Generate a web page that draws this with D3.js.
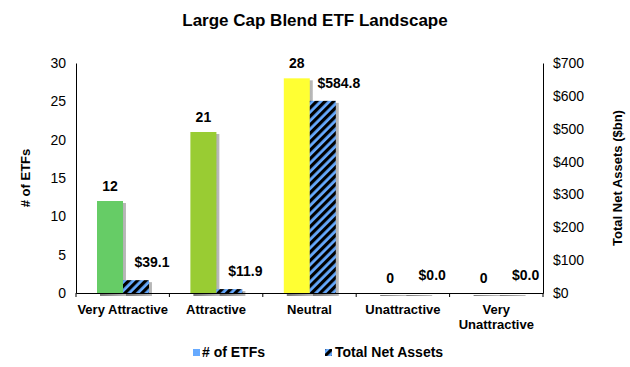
<!DOCTYPE html>
<html><head><meta charset="utf-8">
<script src="https://cdn.jsdelivr.net/npm/d3@7"></script>
<style>body{margin:0;background:#fff}svg{display:block}text{font-family:Arial,"Liberation Sans",sans-serif}</style>
</head><body><div id="chart"></div>
<script>
const categories = ["Very Attractive", "Attractive", "Neutral", "Unattractive", "Very Unattractive"];
const etfCounts = [12, 21, 28, 0, 0];
const netAssets = [39.1, 11.9, 584.8, 0.0, 0.0];
const barColors = ["#66CC66", "#99CC33", "#FFFF33", "#FF9933", "#FF3333"];
const leftTicks = [0, 5, 10, 15, 20, 25, 30];
const rightTicks = [0, 100, 200, 300, 400, 500, 600, 700];

const W = 630, H = 367;
const m = {left: 76, right: 87, top: 63, bottom: 74};
const iw = W - m.left - m.right, ih = H - m.top - m.bottom;

const svg = d3.select("#chart").append("svg").attr("width", W).attr("height", H);
const defs = svg.append("defs");
const pat = defs.append("pattern").attr("id","hatch").attr("patternUnits","userSpaceOnUse")
  .attr("width",6).attr("height",6).attr("patternTransform","rotate(45)");
pat.append("rect").attr("width",6).attr("height",6).attr("fill","#66AAFF");
pat.append("rect").attr("width",3.2).attr("height",6).attr("fill","#000");
const sh = defs.append("linearGradient").attr("id","shade").attr("x1",0).attr("x2",1).attr("y1",0).attr("y2",0);
sh.append("stop").attr("offset","0%").attr("stop-color","#777");
sh.append("stop").attr("offset","100%").attr("stop-color","#bbb");

const x = d3.scaleBand().domain(categories).range([m.left, m.left + iw]);
const yL = d3.scaleLinear().domain([0, 30]).range([m.top + ih, m.top]);
const yR = d3.scaleLinear().domain([0, 700]).range([m.top + ih, m.top]);
const bw = 26, off = 21;

const g = svg.append("g");
categories.forEach((c, i) => {
  const x0 = x(c) + off;
  const h1 = yL(0) - yL(etfCounts[i]);
  g.append("rect").attr("x", x0 + 3).attr("y", yL(etfCounts[i]) + 2).attr("width", bw).attr("height", h1 + 1)
    .attr("fill", "url(#shade)");
  const h2 = yR(0) - yR(netAssets[i]);
  g.append("rect").attr("x", x0 + bw + 3).attr("y", yR(netAssets[i]) + 2).attr("width", bw).attr("height", h2 + 1)
    .attr("fill", "url(#shade)");
});
categories.forEach((c, i) => {
  const x0 = x(c) + off;
  g.append("rect").attr("x", x0).attr("y", yL(etfCounts[i])).attr("width", bw)
    .attr("height", yL(0) - yL(etfCounts[i])).attr("fill", barColors[i]);
  g.append("rect").attr("x", x0 + bw).attr("y", yR(netAssets[i])).attr("width", bw)
    .attr("height", yR(0) - yR(netAssets[i])).attr("fill", "url(#hatch)");
  g.append("text").attr("x", x0 + bw / 2).attr("y", yL(etfCounts[i]) - 10)
    .attr("text-anchor", "middle").attr("font-size", 14).attr("font-weight", "bold").text(etfCounts[i]);
  g.append("text").attr("x", x0 + bw * 1.5 + 16).attr("y", yR(netAssets[i]) - 13)
    .attr("text-anchor", "middle").attr("font-size", 14).attr("font-weight", "bold").text("$" + netAssets[i].toFixed(1));
});

const axB = svg.append("g").attr("transform", `translate(0,${m.top + ih})`)
  .call(d3.axisBottom(x).tickSize(0).tickFormat(""));
axB.select(".domain").attr("stroke", "#000");
const bounds = [m.left, ...categories.map(c => x(c) + x.bandwidth())];
bounds.forEach(b => svg.append("line").attr("x1", b).attr("x2", b).attr("y1", m.top + ih).attr("y2", m.top + ih + 4).attr("stroke", "#000"));
categories.forEach(c => {
  const words = c === "Very Unattractive" ? ["Very", "Unattractive"] : [c];
  words.forEach((w, j) => svg.append("text").attr("x", x(c) + x.bandwidth() / 2).attr("y", m.top + ih + 21 + j * 15)
    .attr("text-anchor", "middle").attr("font-size", 13).attr("font-weight", "bold").text(w));
});

const axL = svg.append("g").attr("transform", `translate(${m.left},0)`)
  .call(d3.axisLeft(yL).tickValues(leftTicks).tickSize(0).tickPadding(10));
axL.select(".domain").attr("stroke", "#000");
axL.selectAll("text").attr("font-size", 14).attr("fill", "#000").style("font-family", "Arial, 'Liberation Sans', sans-serif");

const axR = svg.append("g").attr("transform", `translate(${m.left + iw},0)`)
  .call(d3.axisRight(yR).tickValues(rightTicks).tickSize(0).tickPadding(10).tickFormat(d => "$" + d));
axR.select(".domain").attr("stroke", "#000");
axR.selectAll("text").attr("font-size", 14).attr("fill", "#000").style("font-family", "Arial, 'Liberation Sans', sans-serif");

svg.append("text").attr("x", 315).attr("y", 26).attr("text-anchor", "middle")
  .attr("font-size", 17).attr("font-weight", "bold").text("Large Cap Blend ETF Landscape");
svg.append("text").attr("transform", `translate(30,${m.top + ih / 2}) rotate(-90)`).attr("text-anchor", "middle")
  .attr("font-size", 13).attr("font-weight", "bold").text("# of ETFs");
svg.append("text").attr("transform", `translate(622,${m.top + ih / 2}) rotate(-90)`).attr("text-anchor", "middle")
  .attr("font-size", 13).attr("font-weight", "bold").text("Total Net Assets ($bn)");

svg.append("rect").attr("x", 193).attr("y", 349).attr("width", 7).attr("height", 7).attr("fill", "#66AAFF");
svg.append("text").attr("x", 202).attr("y", 357).attr("font-size", 14).attr("font-weight", "bold").text("# of ETFs");
svg.append("rect").attr("x", 325).attr("y", 349).attr("width", 7).attr("height", 7).attr("fill", "url(#hatch)");
svg.append("text").attr("x", 335).attr("y", 357).attr("font-size", 14).attr("font-weight", "bold").text("Total Net Assets");
</script></body></html>
